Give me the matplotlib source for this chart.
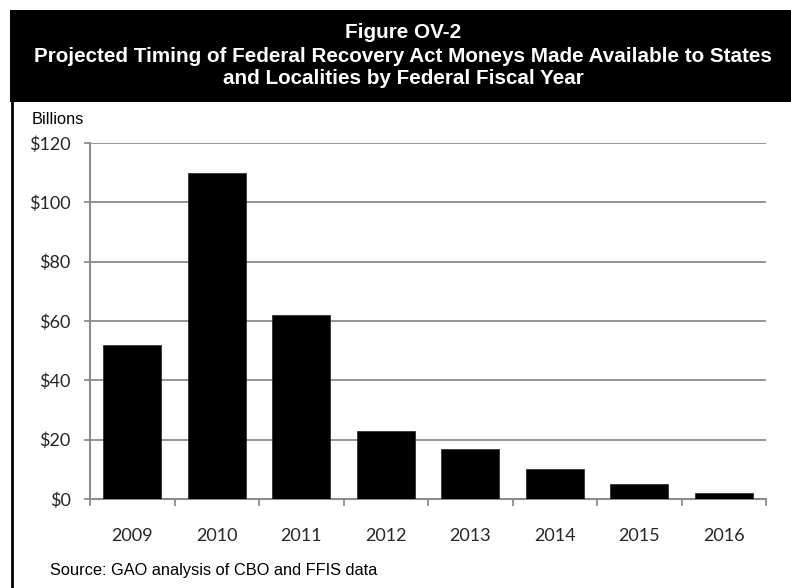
import matplotlib
matplotlib.use("Agg")
import matplotlib.pyplot as plt
from matplotlib.patches import Rectangle
from matplotlib.lines import Line2D

years = ["2009", "2010", "2011", "2012", "2013", "2014", "2015", "2016"]
values = [52, 110, 62, 23, 17, 10, 5, 2]
yticks = [0, 20, 40, 60, 80, 100, 120]
ytick_labels = ["$0", "$20", "$40", "$60", "$80", "$100", "$120"]

W, H = 791, 588
fig = plt.figure(figsize=(W / 100, H / 100), dpi=100)

# header box
fig.patches.append(Rectangle((10 / W, 1 - 102 / H), 1 - 10 / W, 92 / H,
                             transform=fig.transFigure, facecolor="black",
                             edgecolor="none", zorder=0))
# left border line
fig.lines.append(Line2D([11.5 / W, 11.5 / W], [0, 1 - 100 / H],
                        transform=fig.transFigure, color="black", lw=2.0))

title_lines = ["Figure OV-2",
               "Projected Timing of Federal Recovery Act Moneys Made Available to States",
               "and Localities by Federal Fiscal Year"]
title_y = [32, 56, 79]
for t, yy in zip(title_lines, title_y):
    fig.text(403 / W, 1 - yy / H, t, color="white", ha="center",
             va="center", fontsize=14.9, fontweight="bold",
             family="Liberation Sans")

ax = fig.add_axes([90 / W, 1 - 499 / H, (766 - 90) / W, (499 - 143) / H])
x = list(range(len(years)))
ax.bar(x, values, width=0.69, color="black", edgecolor="#222222", lw=0.5, zorder=3)
ax.set_xlim(-0.5, len(years) - 0.5)
ax.set_ylim(0, 120)
ax.set_yticks(yticks)
ax.set_yticklabels(ytick_labels)
ax.set_xticks(x)
ax.set_xticklabels(years)
ax.set_xticks([i - 0.5 for i in range(len(years) + 1)], minor=True)

grid_c = "#8c8c8c"
for v in yticks[1:]:
    ax.axhline(v, color=grid_c, lw=1.3, zorder=1)
for s in ["top", "right"]:
    ax.spines[s].set_visible(False)
for s in ["left", "bottom"]:
    ax.spines[s].set_color(grid_c)
    ax.spines[s].set_linewidth(1.5)

ax.tick_params(axis="y", length=4, width=1.3, color=grid_c, pad=10,
               labelsize=13, labelcolor="#262626")
ax.tick_params(axis="x", which="major", length=0, pad=21,
               labelsize=13, labelcolor="#262626")
ax.tick_params(axis="x", which="minor", length=5, width=1.3, color=grid_c)
for lab in ax.get_xticklabels() + ax.get_yticklabels():
    lab.set_family("Lato")

fig.text(32 / W, 1 - 120 / H, "Billions", ha="left", va="center",
         fontsize=11.8, family="Liberation Sans", color="black")
fig.text(50 / W, 1 - 570 / H, "Source: GAO analysis of CBO and FFIS data",
         ha="left", va="center", fontsize=11.8, family="Liberation Sans",
         color="black")

fig.savefig("out.png", dpi=100)
